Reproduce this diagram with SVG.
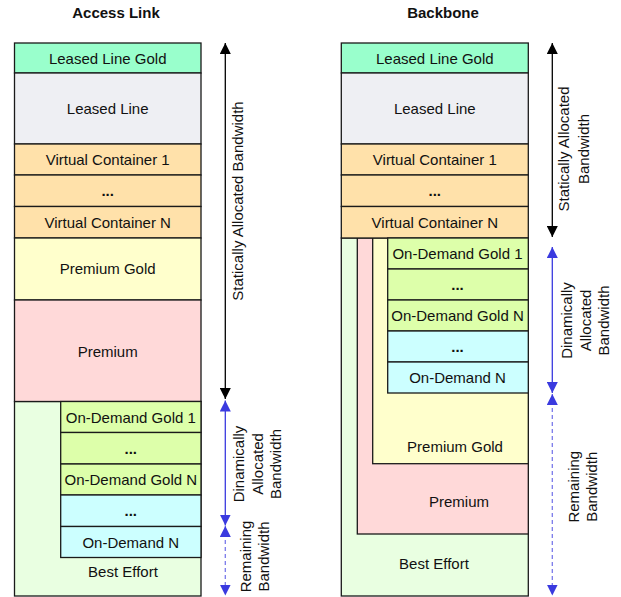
<svg xmlns="http://www.w3.org/2000/svg" width="621" height="597" viewBox="0 0 621 597">
<defs>
<style>
rect{stroke:#1a1a1a;stroke-width:1.3}
text{font-family:"Liberation Sans",Arial,sans-serif;font-size:15px;fill:#111}
.c{text-anchor:middle}
.t{font-weight:bold;text-anchor:middle}
.d{font-weight:bold}
.llg{fill:#99FFCC}.ll{fill:#EEEFF3}.vc{fill:#FFE1AA}.pg{fill:#FFFFCC}.pr{fill:#FFD9D9}.og{fill:#DDFFAA}.cy{fill:#CCFFFF}.be{fill:#E9FFE1}
.ab{stroke:#000;stroke-width:1.3;fill:none}
.bl{stroke:#3A3ADF;stroke-width:1.3;fill:none}
.bd{stroke:#7A7AEA;stroke-width:1.3;fill:none;stroke-dasharray:4 3}
</style>
<marker id="hk" markerUnits="userSpaceOnUse" markerWidth="11" markerHeight="11" refX="11" refY="5.5" orient="auto-start-reverse"><path d="M0,0L11,5.5L0,11z" fill="#000"/></marker>
<marker id="hb" markerUnits="userSpaceOnUse" markerWidth="11" markerHeight="11" refX="11" refY="5.5" orient="auto-start-reverse"><path d="M0,0L11,5.5L0,11z" fill="#3A3ADF"/></marker>
</defs>
<rect width="621" height="597" fill="#fff" style="stroke:none"/>
<text class="t" x="116" y="18">Access Link</text>
<text class="t" x="443" y="18">Backbone</text>

<!-- Access Link -->
<g id="a-be"><rect class="be" x="14.5" y="401.5" width="186.5" height="194.5"/><text class="c" x="123" y="577">Best Effort</text></g>
<g id="a-llg"><rect class="llg" x="14.5" y="43" width="186.5" height="30"/><text class="c" x="107.7" y="63.5">Leased Line Gold</text></g>
<g id="a-ll"><rect class="ll" x="14.5" y="73" width="186.5" height="71"/><text class="c" x="107.7" y="114">Leased Line</text></g>
<g id="a-vc1"><rect class="vc" x="14.5" y="144" width="186.5" height="31"/><text class="c" x="107.7" y="165">Virtual Container 1</text></g>
<g id="a-vcd"><rect class="vc" x="14.5" y="175" width="186.5" height="31.5"/><text class="c d" x="107.7" y="196">...</text></g>
<g id="a-vcn"><rect class="vc" x="14.5" y="206.5" width="186.5" height="31.5"/><text class="c" x="107.7" y="227.5">Virtual Container N</text></g>
<g id="a-pg"><rect class="pg" x="14.5" y="238" width="186.5" height="62"/><text class="c" x="107.7" y="273.5">Premium Gold</text></g>
<g id="a-pr"><rect class="pr" x="14.5" y="300" width="186.5" height="101.5"/><text class="c" x="107.7" y="357">Premium</text></g>
<g id="a-og1"><rect class="og" x="60.7" y="401.5" width="140.3" height="31"/><text class="c" x="130.8" y="422.5">On-Demand Gold 1</text></g>
<g id="a-ogd"><rect class="og" x="60.7" y="432.5" width="140.3" height="31.5"/><text class="c d" x="130.8" y="453.5">...</text></g>
<g id="a-ogn"><rect class="og" x="60.7" y="464" width="140.3" height="31"/><text class="c" x="130.8" y="485">On-Demand Gold N</text></g>
<g id="a-od"><rect class="cy" x="60.7" y="495" width="140.3" height="31.5"/><text class="c d" x="130.8" y="516">...</text></g>
<g id="a-odn"><rect class="cy" x="60.7" y="526.5" width="140.3" height="31"/><text class="c" x="130.8" y="547.5">On-Demand N</text></g>

<!-- Backbone -->
<g id="b-be"><rect class="be" x="341.3" y="238" width="187" height="358"/><text class="c" x="434" y="569">Best Effort</text></g>
<g id="b-pr"><rect class="pr" x="357.3" y="238" width="171" height="296"/><text class="c" x="459" y="507">Premium</text></g>
<g id="b-pg"><rect class="pg" x="372.7" y="238" width="155.6" height="225.7"/><text class="c" x="455" y="451.5">Premium Gold</text></g>
<g id="b-llg"><rect class="llg" x="341.3" y="43" width="187" height="30"/><text class="c" x="434.8" y="63.5">Leased Line Gold</text></g>
<g id="b-ll"><rect class="ll" x="341.3" y="73" width="187" height="71"/><text class="c" x="434.8" y="114">Leased Line</text></g>
<g id="b-vc1"><rect class="vc" x="341.3" y="144" width="187" height="31"/><text class="c" x="434.8" y="165">Virtual Container 1</text></g>
<g id="b-vcd"><rect class="vc" x="341.3" y="175" width="187" height="31.5"/><text class="c d" x="434.8" y="196">...</text></g>
<g id="b-vcn"><rect class="vc" x="341.3" y="206.5" width="187" height="31.5"/><text class="c" x="434.8" y="227.5">Virtual Container N</text></g>
<g id="b-og1"><rect class="og" x="387.7" y="238" width="140.6" height="31"/><text class="c" x="457.5" y="259">On-Demand Gold 1</text></g>
<g id="b-ogd"><rect class="og" x="387.7" y="269" width="140.6" height="31"/><text class="c d" x="457.5" y="290">...</text></g>
<g id="b-ogn"><rect class="og" x="387.7" y="300" width="140.6" height="31"/><text class="c" x="457.5" y="321">On-Demand Gold N</text></g>
<g id="b-od"><rect class="cy" x="387.7" y="331" width="140.6" height="31"/><text class="c d" x="457.5" y="352">...</text></g>
<g id="b-odn"><rect class="cy" x="387.7" y="362" width="140.6" height="31"/><text class="c" x="457.5" y="383">On-Demand N</text></g>

<!-- connectors -->
<g id="connectors">
<line class="ab" x1="225.3" y1="43" x2="225.3" y2="399" marker-start="url(#hk)" marker-end="url(#hk)"/>
<line class="bl" x1="225.3" y1="400.5" x2="225.3" y2="525.5" marker-start="url(#hb)" marker-end="url(#hb)"/>
<line class="bd" x1="225.3" y1="526" x2="225.3" y2="595.5" marker-start="url(#hb)" marker-end="url(#hb)"/>
<line class="ab" x1="552.3" y1="43" x2="552.3" y2="237" marker-start="url(#hk)" marker-end="url(#hk)"/>
<line class="bl" x1="552.3" y1="247" x2="552.3" y2="393" marker-start="url(#hb)" marker-end="url(#hb)"/>
<line class="bd" x1="552.3" y1="394" x2="552.3" y2="595.5" marker-start="url(#hb)" marker-end="url(#hb)"/>
</g>

<!-- side labels -->
<g id="lbl-a-stat"><text class="c" transform="translate(243.3,201) rotate(-90)">Statically Allocated Bandwidth</text></g>
<g id="lbl-a-dyn"><text class="c" transform="translate(244,464) rotate(-90)">Dinamically</text><text class="c" transform="translate(262.8,464) rotate(-90)">Allocated</text><text class="c" transform="translate(281.4,464) rotate(-90)">Bandwidth</text></g>
<g id="lbl-a-rem"><text class="c" transform="translate(250.7,556.5) rotate(-90)">Remaining</text><text class="c" transform="translate(269,556.5) rotate(-90)">Bandwidth</text></g>
<g id="lbl-b-stat"><text class="c" transform="translate(569,149) rotate(-90)">Statically Allocated</text><text class="c" transform="translate(589,149) rotate(-90)">Bandwidth</text></g>
<g id="lbl-b-dyn"><text class="c" transform="translate(572.4,320.5) rotate(-90)">Dinamically</text><text class="c" transform="translate(591,320.5) rotate(-90)">Allocated</text><text class="c" transform="translate(609,320.5) rotate(-90)">Bandwidth</text></g>
<g id="lbl-b-rem"><text class="c" transform="translate(579,486.7) rotate(-90)">Remaining</text><text class="c" transform="translate(597.4,486.7) rotate(-90)">Bandwidth</text></g>
</svg>
